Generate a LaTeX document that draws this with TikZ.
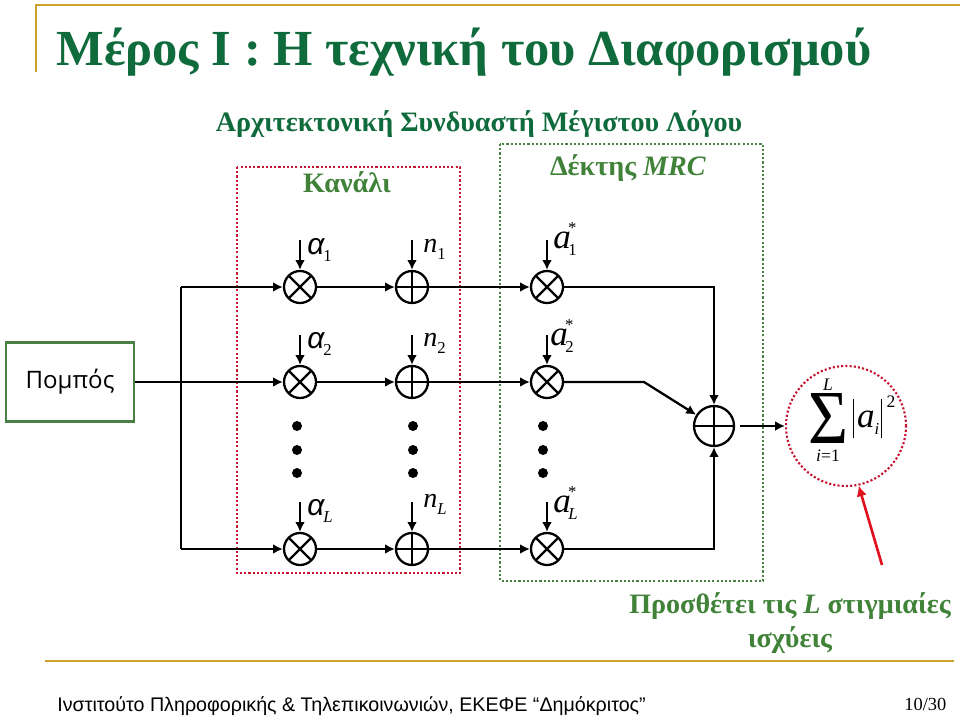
\documentclass[tikz,border=0pt]{standalone}
\usepackage{fontspec}
\setmainfont{Liberation Serif}
\newfontfamily\arialfont{Liberation Sans}
\newfontfamily\pompfont{Open Sans}
\usetikzlibrary{positioning,arrows.meta,calc}
\definecolor{slidegold}{HTML}{CFA32B}
\definecolor{slidegreen}{HTML}{0F6B3C}
\definecolor{labelgreen}{HTML}{3F8238}
\definecolor{boxgreen}{HTML}{4A7F45}
\definecolor{dotred}{HTML}{C4142F}
\definecolor{arrowred}{HTML}{E0101F}
\newcommand{\lowsub}[1]{\raisebox{-4pt}{\fontsize{9.5}{10}\selectfont\itshape #1}}
\newcommand{\conjlabel}[1]{{\itshape a}\hspace{-1.4pt}\rlap{\lowsub{#1}}\raisebox{8pt}{\fontsize{9.5}{10}\selectfont\hspace{-0.2pt}*}}
\newcommand{\absbar}{\rule[-6pt]{0.5pt}{22pt}}
\begin{document}
\begin{tikzpicture}[x=0.02cm,y=-0.02cm,
    wire/.style={line width=1.3pt,-{Latex[length=5.6pt,width=5.6pt]}},
    plainwire/.style={line width=1.3pt},
    mulnode/.style={circle,draw,line width=1.3pt,minimum size=0.64cm,inner sep=0pt,
      path picture={\draw[line width=1.3pt] (path picture bounding box.north west) -- (path picture bounding box.south east)
        (path picture bounding box.north east) -- (path picture bounding box.south west);}},
    addnode/.style={circle,draw,line width=1.3pt,minimum size=0.64cm,inner sep=0pt,
      path picture={\draw[line width=1.3pt] (path picture bounding box.north) -- (path picture bounding box.south)
        (path picture bounding box.east) -- (path picture bounding box.west);}},
    dotmark/.style={circle,fill,inner sep=0pt,minimum size=0.2cm},
    dotbox/.style={draw=#1,line width=1.2pt,dash pattern=on 1.2pt off 1.2pt},
    headtext/.style={text=labelgreen,font=\fontsize{16}{18}\selectfont\bfseries,inner sep=0pt},
    symtext/.style={anchor=base west,inner sep=0pt,font=\fontsize{20}{22}\selectfont}]
  \useasboundingbox (0,0) rectangle (960,717);
  % slide frame
  \draw[slidegold,line width=1.5pt] (36,72) -- (36,5) -- (960,5);
  \draw[slidegold,line width=1.5pt] (45,661) -- (954,661);
  \node[anchor=base west,inner sep=0pt,text=slidegreen,font=\fontsize{28.75}{32}\selectfont\bfseries] (title) at (56,65) {Μέρος Ι : Η τεχνική του Διαφορισμού};
  \node[anchor=base,inner sep=0pt,text=slidegreen,font=\fontsize{16}{18}\selectfont\bfseries] (subtitle) at (479,131) {Αρχιτεκτονική Συνδυαστή Μέγιστου Λόγου};
  \node[anchor=base west,inner sep=0pt,font=\fontsize{11.2}{13}\arialfont\selectfont] (footer) at (57,711) {Ινστιτούτο Πληροφορικής \& Τηλεπικοινωνιών, ΕΚΕΦΕ “Δημόκριτος”};
  \node[anchor=base west,inner sep=0pt,font=\fontsize{10.5}{12}\selectfont] (pageno) at (904,710) {10/30};
  % dotted groups
  \draw[dotbox=dotred] (237,167) rectangle (460,573);
  \draw[dotbox=boxgreen] (500,144) rectangle (763,581);
  \node[headtext,anchor=base] (channel) at (347,192) {Κανάλι};
  \node[headtext,anchor=base] (receiver) at (628,175) {Δέκτης \textit{MRC}};
  % transmitter and trunk
  \node[draw=boxgreen,line width=1.3pt,minimum width=2.56cm,minimum height=1.58cm,inner sep=0pt] (pompos) at (70,382) {};
  \node[anchor=base,inner sep=0pt,font=\fontsize{13.7}{16}\pompfont\selectfont] (pomposname) at (70,388) {Πομπός};
  \coordinate (trunktop) at (181,287);
  \coordinate (trunkbot) at (181,549);
  \draw[plainwire] (trunktop) -- (trunkbot);
  % three branches
  \foreach \row/\yrow in {1/287,2/382,L/549} {
    \node[mulnode] (mul\row) at (300,\yrow) {};
    \node[addnode] (add\row) at (412,\yrow) {};
    \node[mulnode] (cmul\row) at (547,\yrow) {};
    \coordinate (mulin\row) at (300,\yrow-47);
    \coordinate (addin\row) at (412,\yrow-47);
    \coordinate (cmulin\row) at (547,\yrow-47);
    \draw[wire] (mulin\row) -- (mul\row);
    \draw[wire] (addin\row) -- (add\row);
    \draw[wire] (cmulin\row) -- (cmul\row);
    \draw[wire] (mul\row) -- (add\row);
    \draw[wire] (add\row) -- (cmul\row);
  }
  \draw[wire] (trunktop) -- (mul1);
  \draw[wire] (pompos) -- (mul2);
  \draw[wire] (trunkbot) -- (mulL);
  % dots between branches
  \foreach \xdot/\ndot in {297/a,413/b,543/c}
    \foreach \ydot/\mdot in {426/1,450/2,473/3}
      \node[dotmark] (dot\ndot\mdot) at (\xdot,\ydot) {};
  % labels of the branches
  \node[symtext,font=\fontsize{17}{18}\arialfont\itshape\selectfont] (alpha1) at (307,254) {α\hspace{-0.6pt}\lowsub{\rmfamily\upshape 1}};
  \node[symtext,font=\fontsize{17}{18}\arialfont\itshape\selectfont] (alpha2) at (307,348) {α\hspace{-0.6pt}\lowsub{\rmfamily\upshape 2}};
  \node[symtext,font=\fontsize{17}{18}\arialfont\itshape\selectfont] (alphaL) at (307,515) {α\hspace{-0.6pt}\lowsub{\rmfamily L}};
  \node[symtext,font=\fontsize{16}{18}\selectfont] (noise1) at (423,252) {\textit{n}\lowsub{\upshape 1}};
  \node[symtext,font=\fontsize{16}{18}\selectfont] (noise2) at (423,346) {\textit{n}\lowsub{\upshape 2}};
  \node[symtext,font=\fontsize{16}{18}\selectfont] (noiseL) at (423,507) {\textit{n}\lowsub{L}};
  \node[symtext] (conj1) at (553,248) {\conjlabel{\upshape 1}};
  \node[symtext] (conj2) at (550,345) {\conjlabel{\upshape 2}};
  \node[symtext] (conjL) at (553,512) {\conjlabel{L}};
  % combiner
  \node[addnode,minimum size=0.8cm] (sumnode) at (714,426) {};
  \coordinate (bend) at (644,382);
  \draw[wire] (cmul1) -| (sumnode);
  \draw[wire] (cmul2) -- (bend) -- (sumnode);
  \draw[wire] (cmulL) -| (sumnode);
  \node[circle,draw=dotred,line width=1.2pt,dash pattern=on 1.2pt off 1.2pt,minimum size=2.4cm,inner sep=0pt] (ring) at (846,426) {};
  \draw[wire,shorten <=2.5pt] (sumnode) -- (ring);
  \node[inner sep=0pt] (sumsign) at (828,418) {\resizebox*{0.8cm}{1cm}{Σ}};
  \node[anchor=base,inner sep=0pt,font=\fontsize{10}{11}\selectfont\itshape] (sumtop) at (828,390) {L};
  \node[anchor=base,inner sep=0pt,font=\fontsize{10}{11}\selectfont] (sumbot) at (828,461) {\textit{i}=1};
  \node[symtext] (sumterm) at (853,427) {\absbar\hspace{1.6pt}\textit{a}\lowsub{i}\hspace{1.2pt}\absbar\hspace{2.5pt}\raisebox{11pt}{\fontsize{10}{11}\selectfont 2}};
  \coordinate (notetail) at (882,565);
  \draw[arrowred,line width=1.5pt,-{Latex[length=6pt,width=6pt]}] (notetail) -- (ring.282);
  \node[headtext,anchor=base] (note1) at (790,613) {Προσθέτει τις \textit{L} στιγμιαίες};
  \node[headtext,anchor=base] (note2) at (790,647) {ισχύεις};
\end{tikzpicture}
\end{document}
